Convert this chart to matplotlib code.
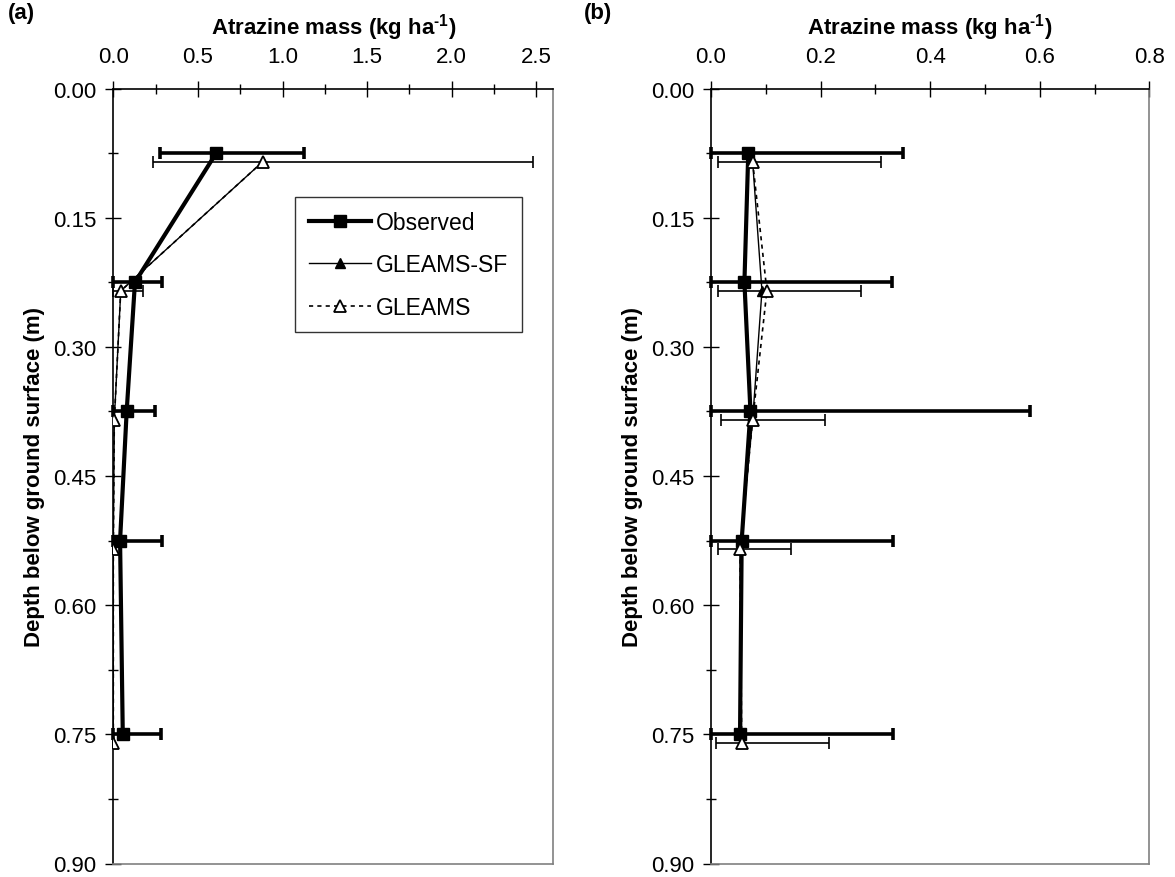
import matplotlib
matplotlib.use('Agg')
import matplotlib.pyplot as plt
from matplotlib.ticker import MultipleLocator, FormatStrFormatter
import numpy as np

plt.rcParams['font.family'] = ['Liberation Sans', 'DejaVu Sans']
plt.rcParams['mathtext.fontset'] = 'custom'
plt.rcParams['mathtext.rm'] = 'Liberation Sans'
plt.rcParams['mathtext.bf'] = 'Liberation Sans:bold'

# depths (m)
obs_depth = [0.075, 0.225, 0.375, 0.525, 0.75]
sim_depth = [0.085, 0.235, 0.385, 0.535, 0.76]

# panel (a) values (kg/ha)
a_obs = [0.608, 0.128, 0.079, 0.040, 0.056]
a_obs_lo = [0.277, 0.0, 0.0, 0.0, 0.0]
a_obs_hi = [1.126, 0.290, 0.247, 0.290, 0.280]
a_sf = [0.883, 0.044, 0.006, 0.0, 0.0]
a_gl = [0.883, 0.044, 0.006, 0.0, 0.0]
a_gl_lo = [0.233, 0.0, 0.006, 0.0, 0.0]
a_gl_hi = [2.482, 0.174, 0.006, 0.0, 0.0]

# panel (b) values (kg/ha)
b_obs = [0.068, 0.061, 0.072, 0.056, 0.053]
b_obs_lo = [0.0, 0.0, 0.0, 0.0, 0.0]
b_obs_hi = [0.351, 0.330, 0.582, 0.333, 0.333]
b_sf = [0.076, 0.093, 0.076, 0.053, 0.056]
b_gl = [0.076, 0.102, 0.076, 0.053, 0.056]
b_gl_lo = [0.013, 0.012, 0.018, 0.012, 0.010]
b_gl_hi = [0.310, 0.273, 0.208, 0.146, 0.215]

series_labels = ['Observed', 'GLEAMS-SF', 'GLEAMS']
x_title = 'Atrazine mass (kg ha$^{\\mathbf{\u2010}\\mathbf{1}}$)'
y_title = 'Depth below ground surface (m)'

W, H = 1175, 878
fig = plt.figure(figsize=(W / 100, H / 100), dpi=100)

def px_axes(left, right, top, bottom):
    return fig.add_axes([left / W, 1 - bottom / H, (right - left) / W, (bottom - top) / H])

ax_a = px_axes(113.3, 553.3, 89.5, 864.5)
ax_b = px_axes(711, 1149.3, 89.5, 864.5)

FS = 16

def draw(ax, obs, obs_lo, obs_hi, sf, gl, gl_lo, gl_hi, xmax, xmaj, xmin, legend=False):
    obs = np.array(obs); gl = np.array(gl)
    oerr = [obs - np.array(obs_lo), np.array(obs_hi) - obs]
    gerr = [gl - np.array(gl_lo), np.array(gl_hi) - gl]
    # observed
    eb = ax.errorbar(obs, obs_depth, xerr=oerr, fmt='none', ecolor='black',
                     elinewidth=2.6, capsize=4.5, capthick=2.6, zorder=3)
    for art in eb.lines[1] + eb.lines[2]:
        art.set_clip_on(False)
    l1, = ax.plot(obs, obs_depth, '-', color='black', lw=3, marker='s', ms=8,
                  mfc='black', mec='black', zorder=4, label=series_labels[0])
    # GLEAMS error bars
    eb2 = ax.errorbar(gl, sim_depth, xerr=gerr, fmt='none', ecolor='black',
                      elinewidth=1.2, capsize=4, capthick=1.2, zorder=3)
    for art in eb2.lines[1] + eb2.lines[2]:
        art.set_clip_on(False)
    l2, = ax.plot(sf, sim_depth, '-', color='black', lw=1, marker='^', ms=7,
                  mfc='black', mec='black', zorder=5, label=series_labels[1])
    l3, = ax.plot(gl, sim_depth, color='black', lw=1.2, dashes=(2.5, 2.5),
                  marker='^', ms=8, mfc='white', mec='black', mew=1.3, zorder=6,
                  label=series_labels[2])

    ax.set_ylim(0.9, 0.0)
    ax.set_xlim(0, xmax)
    ax.xaxis.tick_top()
    ax.xaxis.set_label_position('top')
    ax.xaxis.set_major_locator(MultipleLocator(xmaj))
    ax.xaxis.set_minor_locator(MultipleLocator(xmin))
    ax.xaxis.set_major_formatter(FormatStrFormatter('%.1f'))
    ax.yaxis.set_major_locator(MultipleLocator(0.15))
    ax.yaxis.set_minor_locator(MultipleLocator(0.075))
    ax.yaxis.set_major_formatter(FormatStrFormatter('%.2f'))
    ax.tick_params(which='major', direction='inout', length=11, width=1,
                   labelsize=FS)
    ax.tick_params(which='minor', direction='inout', length=7, width=1)
    ax.tick_params(axis='x', which='major', pad=10)
    ax.tick_params(axis='y', which='major', pad=6.5)
    ax.tick_params(axis='x', which='both', top=True, bottom=False)
    ax.tick_params(axis='y', which='both', left=True, right=False)
    ax.set_xlabel(x_title, fontsize=FS, fontweight='bold', labelpad=9)
    ax.set_ylabel(y_title, fontsize=FS, fontweight='bold', labelpad=6)
    for s in ['left', 'top']:
        ax.spines[s].set_color('black'); ax.spines[s].set_linewidth(1.2)
    for s in ['right', 'bottom']:
        ax.spines[s].set_color('#808080'); ax.spines[s].set_linewidth(1.2)
    if legend:
        leg = ax.legend(handles=[l1, l2, l3], loc='upper left',
                        bbox_to_anchor=(0.413, 0.86), fontsize=16.5, frameon=True,
                        fancybox=False, edgecolor='black', handlelength=2.7,
                        handletextpad=0.25, borderpad=0.6, labelspacing=0.85,
                        borderaxespad=0)
        leg.get_frame().set_linewidth(1.0)

draw(ax_a, a_obs, a_obs_lo, a_obs_hi, a_sf, a_gl, a_gl_lo, a_gl_hi, 2.6, 0.5, 0.25, legend=True)
draw(ax_b, b_obs, b_obs_lo, b_obs_hi, b_sf, b_gl, b_gl_lo, b_gl_hi, 0.8, 0.2, 0.1)

fig.text(8 / W, 1 - 3 / H, '(a)', fontsize=FS, fontweight='bold', va='top', ha='left')
fig.text(584 / W, 1 - 3 / H, '(b)', fontsize=FS, fontweight='bold', va='top', ha='left')

fig.savefig('out.png', dpi=100)
